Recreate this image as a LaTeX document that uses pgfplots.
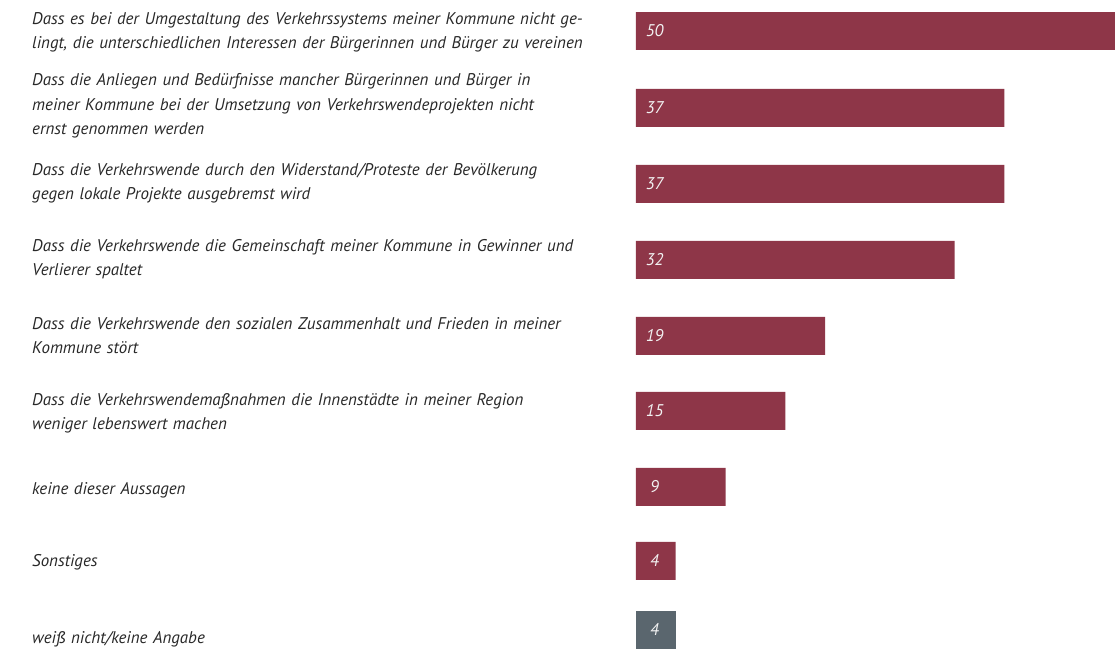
\documentclass[border=0pt]{standalone}
\usepackage{pgfplots}
\pgfplotsset{compat=1.18}
\usepackage{fontspec}
\setmainfont{PT Sans}
\definecolor{barred}{RGB}{142,54,72}
\definecolor{bargray}{RGB}{90,102,110}
\definecolor{txt}{RGB}{40,40,40}
\begin{document}
\begin{tikzpicture}
\begin{axis}[
  scale only axis,
  width=359.25pt, height=488.25pt,
  xbar, bar width=38,
  xmin=0, xmax=48.1,
  ymin=0, ymax=651,
  y dir=reverse,
  axis line style={draw=none},
  xtick=\empty,
  ytick={32.5,106,183,259,335.5,413,490,562,639},
  yticklabels={
    {Dass es bei der Umgestaltung des Verkehrssystems meiner Kommune nicht ge-\\lingt, die unterschiedlichen Interessen der Bürgerinnen und Bürger zu vereinen},
    {Dass die Anliegen und Bedürfnisse mancher Bürgerinnen und Bürger in\\meiner Kommune bei der Umsetzung von Verkehrswendeprojekten nicht\\ernst genommen werden},
    {Dass die Verkehrswende durch den Widerstand/Proteste der Bevölkerung\\gegen lokale Projekte ausgebremst wird},
    {Dass die Verkehrswende die Gemeinschaft meiner Kommune in Gewinner und\\Verlierer spaltet},
    {Dass die Verkehrswende den sozialen Zusammenhalt und Frieden in meiner\\Kommune stört},
    {Dass die Verkehrswendemaßnahmen die Innenstädte in meiner Region\\weniger lebenswert machen},
    {keine dieser Aussagen},
    {Sonstiges},
    {weiß nicht/keine Angabe}},
  yticklabel style={anchor=west, xshift=-453pt, inner sep=0pt, text width=445pt, align=left,
     font=\fontsize{12.7}{18.2}\selectfont\itshape, text=txt},
  major tick length=0pt,
  clip=true,
]
\addplot[fill=barred, draw=none, bar shift=0pt] coordinates {
 (50,31) (37,108) (37,184) (32,260) (19,336) (15,411) (9,487) (4,561)};
\addplot[fill=bargray, draw=none, bar shift=0pt] coordinates {(4,630)};
\addplot[draw=none, fill=none, bar shift=0pt, nodes near coords, point meta=explicit symbolic,
  every node near coord/.append style={anchor=center, xshift=14pt, yshift=0pt, text=white!90!gray,
    font=\fontsize{12.7}{14}\selectfont\itshape}]
  coordinates {(0,31)[50] (0,108)[37] (0,184)[37] (0,260)[32] (0,336)[19] (0,411)[15] (0,487)[9] (0,561)[4] (0,630)[4]};
\end{axis}
\path (current axis.south west) ++(-477pt,0) rectangle (current axis.north east);
\end{tikzpicture}
\end{document}
